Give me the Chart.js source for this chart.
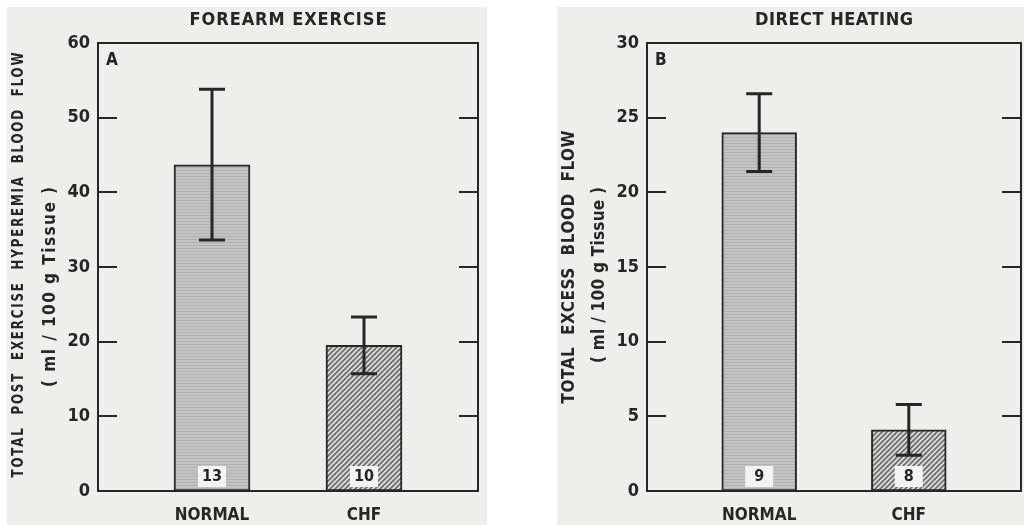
<!DOCTYPE html>
<html>
<head>
<meta charset="utf-8">
<script src="https://cdn.jsdelivr.net/npm/chart.js@4.4.1/dist/chart.umd.min.js"></script>
<style>
  html, body { margin: 0; padding: 0; background: #fff; width: 1024px; height: 525px; overflow: hidden; }
  .panel { position: absolute; top: 7px; height: 518px; background: #eeeeeb; }
  #p1 { left: 7px; width: 480px; }
  #p2 { left: 557px; width: 467px; }
  canvas { display: block; }
</style>
</head>
<body>
<div class="panel" id="p1"><canvas id="exercise" width="480" height="518"></canvas></div>
<div class="panel" id="p2"><canvas id="heating" width="467" height="518"></canvas></div>
<script>
// blank slots keep the two bars apart like in the original figure
const categories = ['', 'NORMAL', '', 'CHF', ''];

const exerciseMean = [null, 43.7, null, 19.5, null];
const exerciseErr = [null, 10.1, null, 3.8, null];
const exerciseN = [null, 13, null, 10, null];
const exerciseTicks = [0, 10, 20, 30, 40, 50, 60];

const heatingMean = [null, 24.0, null, 4.1, null];
const heatingErr = [null, 2.6, null, 1.7, null];
const heatingN = [null, 9, null, 8, null];
const heatingTicks = [0, 5, 10, 15, 20, 25, 30];

const INK = '#262626';
const FONT = "'DejaVu Sans Condensed', 'Liberation Sans Narrow', 'DejaVu Sans', sans-serif";

function grayFill() {
  const c = document.createElement('canvas');
  c.width = 4; c.height = 3;
  const g = c.getContext('2d');
  g.fillStyle = '#c3c3c1'; g.fillRect(0, 0, 4, 3);
  g.fillStyle = '#b2b2b0'; g.fillRect(0, 1, 4, 1);
  return g.createPattern(c, 'repeat');
}

function hatchFill() {
  const c = document.createElement('canvas');
  c.width = 5; c.height = 5;
  const g = c.getContext('2d');
  g.fillStyle = '#dcdcda'; g.fillRect(0, 0, 5, 5);
  g.strokeStyle = '#6c6c6c'; g.lineWidth = 1.7;
  g.beginPath();
  g.moveTo(-1, 6); g.lineTo(6, -1);
  g.moveTo(-1, 1); g.lineTo(1, -1);
  g.moveTo(4, 6); g.lineTo(6, 4);
  g.stroke();
  return g.createPattern(c, 'repeat');
}

// text stretched to a given length with letter spacing, centred on x
function spaced(ctx, text, x, y, width) {
  ctx.letterSpacing = '0px';
  const w = ctx.measureText(text).width;
  const ls = Math.max(0, (width - w) / (text.length - 1));
  ctx.letterSpacing = ls + 'px';
  ctx.fillText(text, x + ls / 2, y);
  ctx.letterSpacing = '0px';
}

const paper = {
  id: 'paper',
  afterDatasetsDraw(chart, args, o) {
    const { ctx, chartArea: a, scales: { x, y } } = chart;
    const means = chart.data.datasets[0].data;
    ctx.save();
    ctx.strokeStyle = INK;
    ctx.fillStyle = INK;

    // frame
    ctx.lineWidth = 2;
    ctx.strokeRect(a.left, a.top, a.right - a.left, a.bottom - a.top);

    // tick marks pointing inwards on both sides
    y.ticks.forEach(t => {
      if (t.value <= y.min || t.value >= y.max) return;
      const py = Math.round(y.getPixelForValue(t.value));
      ctx.beginPath();
      ctx.moveTo(a.left, py); ctx.lineTo(a.left + 19, py);
      ctx.moveTo(a.right - 19, py); ctx.lineTo(a.right, py);
      ctx.stroke();
    });

    // error bars
    ctx.lineWidth = 3;
    o.err.forEach((e, i) => {
      if (e == null) return;
      const px = x.getPixelForValue(i);
      const hi = y.getPixelForValue(means[i] + e);
      const lo = y.getPixelForValue(means[i] - e);
      ctx.beginPath();
      ctx.moveTo(px, hi); ctx.lineTo(px, lo);
      ctx.moveTo(px - 13, hi); ctx.lineTo(px + 13, hi);
      ctx.moveTo(px - 13, lo); ctx.lineTo(px + 13, lo);
      ctx.stroke();
    });

    // subject counts at the foot of each bar
    ctx.font = 'bold 16px ' + FONT;
    ctx.textAlign = 'center';
    ctx.textBaseline = 'middle';
    o.counts.forEach((n, i) => {
      if (n == null) return;
      const px = x.getPixelForValue(i);
      const by = y.getPixelForValue(0);
      ctx.fillStyle = '#f3f3f1';
      ctx.fillRect(px - 14, by - 25, 28, 21);
      ctx.fillStyle = INK;
      ctx.fillText(String(n), px, by - 14);
    });

    // panel letter
    ctx.font = 'bold 17px ' + FONT;
    ctx.textAlign = 'left';
    ctx.textBaseline = 'alphabetic';
    ctx.fillText(o.letter, a.left + 8, a.top + 22);

    // heading
    ctx.font = 'bold 18px ' + FONT;
    ctx.textAlign = 'center';
    ctx.textBaseline = 'middle';
    spaced(ctx, o.title, (a.left + a.right) / 2, 13, o.titleWidth);

    // y axis title, two lines (squeeze narrows the letters like the original type)
    o.yTitle.forEach(line => {
      const sq = line.squeeze || 1;
      ctx.font = 'bold ' + line.size + 'px ' + FONT;
      ctx.save();
      ctx.translate(line.x, line.y);
      ctx.rotate(-Math.PI / 2);
      ctx.scale(sq, 1);
      spaced(ctx, line.text, 0, 0, line.width / sq);
      ctx.restore();
    });

    ctx.restore();
  }
};

function makeChart(id, means, errs, counts, ticks, extra, axisWidth) {
  const step = ticks[1] - ticks[0];
  return new Chart(document.getElementById(id), {
    type: 'bar',
    data: {
      labels: categories,
      datasets: [{
        data: means,
        backgroundColor: [null, grayFill(), null, hatchFill(), null],
        borderColor: INK,
        borderWidth: 2,
        borderSkipped: false,
        barPercentage: 1,
        categoryPercentage: 1
      }]
    },
    options: {
      responsive: false,
      animation: false,
      layout: { padding: { top: 36, right: extra.padRight, left: 0, bottom: 0 } },
      plugins: {
        legend: { display: false },
        tooltip: { enabled: false },
        paper: Object.assign({ err: errs, counts: counts }, extra)
      },
      scales: {
        x: {
          grid: { display: false, drawTicks: false },
          border: { display: false },
          ticks: {
            color: INK, padding: 14, autoSkip: false, maxRotation: 0, minRotation: 0,
            font: { family: FONT, size: 17, weight: 'bold' }
          },
          afterFit: s => { s.height = 34; }
        },
        y: {
          min: ticks[0],
          max: ticks[ticks.length - 1],
          grid: { display: false, drawTicks: false },
          border: { display: false },
          ticks: { stepSize: step, color: INK, padding: 8, font: { family: FONT, size: 18, weight: 'bold' } },
          afterFit: s => { s.width = axisWidth; }
        }
      }
    },
    plugins: [paper]
  });
}

makeChart('exercise', exerciseMean, exerciseErr, exerciseN, exerciseTicks, {
  padRight: 9,
  letter: 'A',
  title: 'FOREARM EXERCISE',
  titleWidth: 197,
  yTitle: [
    { text: 'TOTAL  POST  EXERCISE  HYPEREMIA  BLOOD  FLOW', x: 12, y: 258, width: 425, size: 16, squeeze: 0.82 },
    { text: '( ml / 100 g Tissue )', x: 44, y: 280, width: 200, size: 17 }
  ]
}, 91);

makeChart('heating', heatingMean, heatingErr, heatingN, heatingTicks, {
  padRight: 3,
  letter: 'B',
  title: 'DIRECT HEATING',
  titleWidth: 158,
  yTitle: [
    { text: 'TOTAL  EXCESS  BLOOD  FLOW', x: 13, y: 260, width: 273, size: 17 },
    { text: '( ml / 100 g Tissue )', x: 43, y: 268, width: 176, size: 17 }
  ]
}, 90);
</script>
</body>
</html>
